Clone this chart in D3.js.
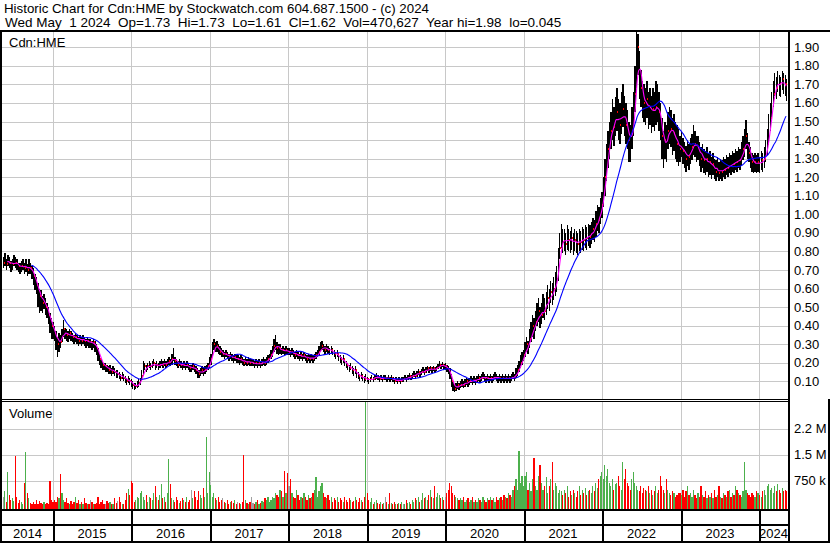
<!DOCTYPE html>
<html><head><meta charset="utf-8">
<script src="https://cdn.jsdelivr.net/npm/d3@7"></script>
<style>
html,body{margin:0;padding:0;background:#fff;}
svg{display:block;font-family:"Liberation Sans",Arial,sans-serif;}
</style></head>
<body>
<svg id="c" width="830" height="543"></svg>
<script>
// ---------- DATA (weekly, starting week of 2014-05-12) ----------
const startDate = new Date(2014, 4, 12);
const titleLine1 = "Historic Chart for Cdn:HME by Stockwatch.com 604.687.1500 - (c) 2024";
const titleLine2 = "Wed May  1 2024  Op=1.73  Hi=1.73  Lo=1.61  Cl=1.62  Vol=470,627  Year hi=1.98  lo=0.045";
const symbol = "Cdn:HME";
const priceTicks = [0.10,0.20,0.30,0.40,0.50,0.60,0.70,0.80,0.90,1.00,1.10,1.20,1.30,1.40,1.50,1.60,1.70,1.80,1.90];
const volumeTicks = [750000, 1500000, 2250000];
const volumeTickLabels = ["750 k", "1.5 M", "2.2 M"];
const yearLabels = ["2014","2015","2016","2017","2018","2019","2020","2021","2022","2023","2024"];

const close = [
0.74,0.75,0.73,0.76,0.74,0.72,0.73,0.75,0.74,0.73,0.72,0.71,0.72,0.73,0.71,0.72,0.70,0.72,0.71,0.69,0.67,0.64,0.62,0.58,0.56,0.55,0.52,0.54,0.50,0.48,0.46,0.42,0.40,0.38,
0.36,0.32,0.30,0.33,0.31,0.35,0.38,0.36,0.35,0.34,0.36,0.35,0.34,0.33,0.34,0.33,0.32,0.33,0.32,0.33,0.32,0.31,0.32,0.31,0.31,0.30,0.31,0.29,0.28,0.25,0.22,0.20,0.19,0.18,0.18,0.17,0.16,0.17,0.15,0.16,0.15,0.14,0.14,0.13,0.12,0.13,0.12,0.11,0.10,0.11,0.10,0.09,
0.08,0.07,0.075,0.08,0.09,0.10,0.13,0.16,0.18,0.17,0.18,0.19,0.18,0.19,0.20,0.18,0.19,0.18,0.19,0.20,0.19,0.20,0.19,0.20,0.21,0.20,0.22,0.24,0.21,0.20,0.19,0.20,0.19,0.18,0.19,0.18,0.19,0.18,0.17,0.17,0.18,0.17,0.16,0.15,0.14,0.15,0.16,0.15,0.16,0.17,0.18,0.20,
0.22,0.27,0.30,0.28,0.29,0.27,0.26,0.25,0.25,0.24,0.25,0.24,0.23,0.24,0.23,0.22,0.23,0.22,0.22,0.21,0.22,0.21,0.20,0.21,0.20,0.21,0.20,0.20,0.20,0.19,0.20,0.19,0.20,0.19,0.20,0.21,0.20,0.21,0.22,0.23,0.24,0.26,0.29,0.31,0.28,0.27,0.28,0.26,0.27,0.26,0.27,0.26,
0.26,0.25,0.26,0.25,0.24,0.25,0.24,0.23,0.24,0.23,0.24,0.23,0.22,0.23,0.22,0.23,0.22,0.23,0.24,0.25,0.26,0.28,0.29,0.28,0.27,0.28,0.27,0.26,0.27,0.26,0.25,0.24,0.25,0.23,0.22,0.21,0.22,0.20,0.19,0.18,0.17,0.18,0.16,0.15,0.16,0.14,0.13,0.12,0.13,0.12,0.11,0.12,
0.11,0.10,0.11,0.12,0.11,0.12,0.13,0.12,0.11,0.12,0.11,0.12,0.12,0.11,0.12,0.11,0.12,0.11,0.10,0.11,0.10,0.11,0.10,0.11,0.11,0.12,0.11,0.12,0.13,0.12,0.13,0.14,0.13,0.14,0.15,0.14,0.15,0.16,0.15,0.16,0.17,0.16,0.17,0.16,0.17,0.16,0.17,0.18,0.19,0.18,0.19,0.18,
0.18,0.17,0.16,0.14,0.10,0.07,0.06,0.07,0.08,0.07,0.08,0.09,0.08,0.09,0.10,0.09,0.10,0.11,0.10,0.11,0.10,0.11,0.12,0.11,0.12,0.13,0.12,0.11,0.12,0.11,0.12,0.11,0.12,0.13,0.12,0.11,0.12,0.11,0.12,0.11,0.12,0.11,0.12,0.11,0.12,0.13,0.12,0.14,0.16,0.18,0.20,0.22,
0.24,0.27,0.30,0.28,0.33,0.36,0.40,0.38,0.42,0.45,0.48,0.44,0.46,0.50,0.48,0.52,0.55,0.53,0.58,0.57,0.60,0.62,0.65,0.72,0.82,0.88,0.85,0.86,0.84,0.88,0.86,0.85,0.87,0.84,0.86,0.85,0.84,0.86,0.85,0.87,0.86,0.88,0.87,0.89,0.88,0.90,0.92,0.91,0.95,0.98,0.97,1.02,
1.05,1.12,1.20,1.28,1.35,1.40,1.45,1.50,1.47,1.52,1.55,1.50,1.48,1.53,1.57,1.52,1.48,1.45,1.40,1.38,1.45,1.52,1.65,1.80,1.90,1.75,1.68,1.62,1.60,1.58,1.62,1.56,1.58,1.54,1.57,1.55,1.58,1.60,1.55,1.50,1.42,1.35,1.40,1.38,1.45,1.48,1.46,1.42,1.44,1.40,1.38,1.36,
1.35,1.38,1.34,1.32,1.30,1.33,1.31,1.34,1.36,1.40,1.38,1.35,1.36,1.33,1.30,1.32,1.29,1.28,1.30,1.27,1.28,1.25,1.27,1.24,1.23,1.25,1.22,1.24,1.23,1.25,1.24,1.26,1.25,1.27,1.26,1.28,1.27,1.29,1.28,1.30,1.29,1.32,1.35,1.38,1.42,1.36,1.33,1.30,1.28,1.27,1.28,1.27,
1.28,1.27,1.29,1.28,1.30,1.33,1.38,1.45,1.52,1.58,1.65,1.70,1.68,1.72,1.70,1.69,1.73,1.71,1.70,1.62
];
const high = [
0.77,0.79,0.76,0.78,0.77,0.75,0.76,0.78,0.77,0.76,0.74,0.74,0.75,0.76,0.74,0.76,0.73,0.76,0.74,0.72,0.71,0.68,0.66,0.63,0.60,0.59,0.56,0.57,0.55,0.52,0.50,0.47,0.44,0.42,
0.40,0.37,0.34,0.36,0.35,0.38,0.43,0.39,0.38,0.37,0.38,0.37,0.36,0.35,0.36,0.35,0.34,0.35,0.34,0.35,0.34,0.33,0.34,0.33,0.33,0.32,0.33,0.32,0.30,0.28,0.25,0.22,0.21,0.20,0.20,0.19,0.18,0.19,0.17,0.18,0.17,0.16,0.16,0.15,0.14,0.15,0.14,0.13,0.12,0.13,0.12,0.11,
0.10,0.09,0.09,0.10,0.11,0.12,0.16,0.21,0.20,0.19,0.20,0.21,0.20,0.21,0.22,0.20,0.21,0.20,0.21,0.22,0.21,0.22,0.21,0.22,0.23,0.22,0.25,0.28,0.23,0.22,0.21,0.22,0.21,0.20,0.21,0.20,0.21,0.20,0.19,0.19,0.20,0.19,0.18,0.17,0.16,0.17,0.18,0.17,0.18,0.19,0.20,0.23,
0.25,0.31,0.33,0.31,0.32,0.30,0.29,0.28,0.27,0.26,0.27,0.26,0.25,0.26,0.25,0.24,0.25,0.24,0.24,0.23,0.24,0.23,0.22,0.23,0.22,0.23,0.22,0.22,0.22,0.21,0.22,0.21,0.22,0.21,0.22,0.23,0.22,0.23,0.24,0.25,0.27,0.29,0.33,0.35,0.31,0.30,0.30,0.28,0.29,0.28,0.29,0.28,
0.28,0.27,0.28,0.27,0.26,0.27,0.26,0.25,0.26,0.25,0.26,0.25,0.24,0.25,0.24,0.25,0.24,0.25,0.26,0.27,0.29,0.31,0.32,0.30,0.29,0.30,0.29,0.28,0.29,0.28,0.27,0.26,0.27,0.25,0.24,0.23,0.24,0.22,0.21,0.20,0.19,0.20,0.18,0.17,0.18,0.16,0.15,0.14,0.15,0.14,0.13,0.14,
0.125,0.115,0.125,0.135,0.125,0.135,0.145,0.135,0.125,0.135,0.125,0.135,0.135,0.125,0.135,0.125,0.135,0.125,0.115,0.125,0.115,0.125,0.115,0.125,0.125,0.135,0.125,0.135,0.145,0.135,0.145,0.155,0.145,0.155,0.165,0.155,0.165,0.175,0.165,0.175,0.185,0.175,0.185,0.175,0.185,0.175,0.185,0.195,0.21,0.195,0.205,0.195,
0.20,0.19,0.18,0.17,0.14,0.10,0.08,0.09,0.10,0.09,0.10,0.11,0.10,0.11,0.12,0.11,0.12,0.13,0.12,0.13,0.12,0.13,0.14,0.13,0.14,0.15,0.14,0.13,0.14,0.13,0.14,0.13,0.14,0.15,0.14,0.13,0.14,0.13,0.14,0.13,0.14,0.13,0.14,0.13,0.14,0.15,0.14,0.17,0.19,0.21,0.24,0.26,
0.27,0.31,0.34,0.32,0.38,0.42,0.46,0.44,0.48,0.52,0.55,0.50,0.52,0.57,0.55,0.58,0.62,0.60,0.64,0.63,0.66,0.69,0.72,0.82,0.90,0.95,0.92,0.92,0.90,0.94,0.92,0.91,0.93,0.90,0.92,0.91,0.90,0.92,0.91,0.93,0.92,0.94,0.93,0.95,0.94,0.96,0.98,0.97,1.02,1.05,1.04,1.09,
1.12,1.20,1.30,1.38,1.45,1.50,1.55,1.62,1.58,1.63,1.68,1.62,1.60,1.66,1.70,1.64,1.60,1.56,1.50,1.48,1.58,1.66,1.80,1.98,1.97,1.88,1.78,1.72,1.70,1.68,1.72,1.66,1.68,1.64,1.68,1.66,1.72,1.70,1.66,1.60,1.52,1.45,1.50,1.48,1.55,1.58,1.56,1.52,1.54,1.50,1.48,1.46,
1.42,1.45,1.41,1.39,1.37,1.40,1.38,1.41,1.43,1.48,1.45,1.42,1.42,1.39,1.36,1.38,1.35,1.34,1.36,1.33,1.34,1.31,1.33,1.30,1.29,1.31,1.28,1.30,1.29,1.31,1.30,1.32,1.31,1.33,1.32,1.34,1.33,1.35,1.34,1.36,1.35,1.39,1.42,1.46,1.51,1.44,1.39,1.36,1.33,1.32,1.33,1.32,
1.33,1.31,1.34,1.33,1.36,1.40,1.46,1.54,1.60,1.66,1.72,1.76,1.74,1.77,1.75,1.74,1.77,1.76,1.75,1.73
];
const low = [
0.71,0.72,0.70,0.72,0.71,0.69,0.70,0.72,0.71,0.70,0.69,0.68,0.69,0.70,0.68,0.69,0.67,0.68,0.68,0.65,0.62,0.59,0.57,0.50,0.47,0.48,0.47,0.49,0.46,0.44,0.41,0.36,0.33,0.33,
0.32,0.27,0.23,0.26,0.28,0.31,0.34,0.33,0.32,0.31,0.33,0.32,0.31,0.30,0.31,0.30,0.29,0.30,0.29,0.30,0.29,0.28,0.29,0.28,0.28,0.27,0.28,0.26,0.24,0.21,0.19,0.17,0.16,0.16,0.15,0.15,0.14,0.14,0.13,0.14,0.13,0.12,0.12,0.11,0.10,0.11,0.10,0.09,0.08,0.09,0.08,0.07,
0.06,0.055,0.06,0.065,0.07,0.08,0.10,0.13,0.16,0.15,0.16,0.17,0.16,0.17,0.18,0.16,0.17,0.16,0.17,0.18,0.17,0.18,0.17,0.18,0.19,0.18,0.19,0.21,0.19,0.18,0.17,0.18,0.17,0.16,0.17,0.16,0.17,0.16,0.15,0.15,0.16,0.15,0.14,0.12,0.12,0.13,0.14,0.13,0.14,0.15,0.16,0.17,
0.19,0.23,0.27,0.26,0.26,0.25,0.24,0.23,0.23,0.22,0.23,0.22,0.21,0.22,0.21,0.20,0.21,0.20,0.20,0.19,0.20,0.19,0.18,0.19,0.18,0.19,0.18,0.18,0.18,0.17,0.18,0.17,0.18,0.17,0.18,0.19,0.18,0.19,0.20,0.21,0.22,0.23,0.26,0.27,0.25,0.24,0.25,0.24,0.25,0.24,0.24,0.24,
0.24,0.23,0.24,0.23,0.22,0.23,0.22,0.21,0.22,0.21,0.22,0.21,0.20,0.21,0.20,0.21,0.20,0.21,0.22,0.23,0.24,0.26,0.27,0.26,0.25,0.26,0.25,0.24,0.25,0.24,0.23,0.22,0.23,0.21,0.20,0.19,0.20,0.18,0.17,0.16,0.15,0.16,0.14,0.13,0.14,0.12,0.11,0.10,0.11,0.10,0.09,0.10,
0.095,0.085,0.095,0.105,0.095,0.105,0.115,0.105,0.095,0.105,0.095,0.105,0.105,0.095,0.105,0.095,0.105,0.095,0.085,0.095,0.085,0.095,0.085,0.095,0.095,0.105,0.095,0.105,0.115,0.105,0.115,0.125,0.115,0.125,0.135,0.125,0.135,0.145,0.135,0.145,0.155,0.145,0.155,0.145,0.155,0.145,0.155,0.165,0.175,0.165,0.175,0.165,
0.16,0.15,0.14,0.11,0.07,0.05,0.045,0.05,0.06,0.055,0.065,0.07,0.065,0.07,0.08,0.07,0.08,0.09,0.08,0.09,0.08,0.09,0.10,0.09,0.10,0.11,0.10,0.09,0.10,0.09,0.10,0.09,0.10,0.11,0.10,0.09,0.10,0.09,0.10,0.09,0.10,0.09,0.10,0.09,0.10,0.11,0.10,0.12,0.13,0.15,0.17,0.19,
0.21,0.23,0.26,0.25,0.28,0.31,0.34,0.33,0.37,0.40,0.42,0.39,0.41,0.44,0.43,0.46,0.49,0.48,0.52,0.51,0.54,0.56,0.58,0.64,0.76,0.82,0.79,0.80,0.78,0.81,0.80,0.79,0.81,0.78,0.80,0.79,0.78,0.80,0.79,0.81,0.80,0.82,0.81,0.83,0.82,0.84,0.86,0.85,0.88,0.91,0.90,0.95,
0.98,1.04,1.10,1.18,1.25,1.30,1.35,1.40,1.37,1.42,1.45,1.40,1.38,1.43,1.47,1.42,1.38,1.35,1.28,1.28,1.35,1.42,1.55,1.68,1.75,1.62,1.58,1.52,1.50,1.48,1.52,1.46,1.48,1.44,1.47,1.45,1.48,1.50,1.45,1.40,1.30,1.25,1.30,1.28,1.35,1.38,1.36,1.32,1.34,1.30,1.28,1.26,
1.28,1.31,1.27,1.25,1.23,1.26,1.24,1.27,1.29,1.32,1.31,1.28,1.29,1.26,1.23,1.25,1.22,1.21,1.23,1.20,1.21,1.19,1.21,1.19,1.18,1.20,1.18,1.19,1.18,1.20,1.19,1.21,1.20,1.22,1.21,1.23,1.22,1.24,1.23,1.25,1.24,1.26,1.29,1.31,1.35,1.30,1.28,1.25,1.23,1.22,1.23,1.22,
1.23,1.22,1.24,1.23,1.25,1.28,1.32,1.38,1.45,1.52,1.58,1.64,1.62,1.66,1.64,1.63,1.67,1.65,1.64,1.61
];
// volume in thousands of shares
const volume = [
300,450,150,1000,350,200,250,180,1450,300,120,200,150,90,700,1570,400,250,120,80,150,100,200,90,180,110,80,150,100,120,90,740,200,150,
200,150,300,250,940,400,200,150,250,120,100,180,90,150,300,120,200,100,150,90,250,120,80,100,200,150,100,90,120,300,80,150,200,100,90,180,120,150,90,100,250,120,180,300,150,100,90,200,400,520,350,740,
700,150,200,300,250,400,450,300,200,350,150,300,250,200,400,600,300,200,350,650,250,300,150,400,1370,650,250,200,150,300,200,120,180,250,200,150,300,150,200,500,250,450,300,200,470,350,250,550,300,2000,400,1000,
620,300,400,250,200,300,150,200,250,150,120,200,100,150,180,120,200,100,150,120,100,150,1500,200,120,100,150,300,120,100,150,200,100,120,180,150,250,200,300,150,200,300,250,400,350,300,500,450,300,1020,400,970,
600,800,400,300,250,500,350,200,300,250,400,300,200,350,250,300,400,500,850,300,450,600,700,400,300,250,350,200,300,150,250,200,300,150,250,200,150,300,200,150,250,200,150,180,300,200,150,250,200,150,300,3000,
400,200,150,250,100,150,200,120,100,150,80,120,300,150,100,400,120,80,150,100,80,120,100,150,80,100,200,120,150,100,200,150,250,200,300,150,200,400,250,300,200,350,500,300,250,600,300,400,350,250,300,200,
300,400,500,700,600,400,350,300,250,200,250,200,300,150,200,250,150,200,300,150,200,150,250,200,150,300,200,150,250,200,300,200,250,150,300,200,250,300,200,350,300,250,400,350,300,500,600,800,500,1600,700,900,
600,900,1000,500,700,450,800,1400,600,500,900,1200,700,500,600,850,400,600,800,1300,500,700,600,400,500,450,350,500,400,600,300,450,350,500,400,300,450,600,350,500,400,550,350,450,500,400,600,450,700,550,800,900,
1000,800,1200,900,1100,700,600,800,500,650,700,900,600,500,1300,800,1100,700,600,500,800,1000,700,600,500,450,600,400,550,500,450,600,400,500,350,450,600,400,500,900,600,500,400,800,500,400,350,450,400,300,350,400,
400,350,500,300,450,600,350,400,300,500,350,250,400,300,600,350,300,450,250,350,300,400,250,500,300,350,600,300,250,400,350,300,450,500,300,400,350,600,500,400,350,300,450,1300,500,400,350,300,400,350,300,450,
400,350,300,450,500,350,600,650,500,550,400,600,450,650,500,400,550,450,500,470
];

// ---------- LAYOUT ----------
const W = 830, H = 543;
const plotL = 2, plotR = 788;
const priceTop = 31, priceBot = 399;
const volTop = 402, volBot = 509;

const svg = d3.select("#c");
const dates = close.map((_, i) => d3.timeWeek.offset(startDate, i));

const x = d3.scaleTime()
  .domain([new Date(2015,0,1), new Date(2024,0,1)])
  .range([53, 759]);
const y = d3.scaleLinear().domain([0, 2]).range([399.9, 28.7]);
const yv = d3.scaleLinear().domain([0, 2250]).range([507, 428.5]);

const yearBounds = d3.timeYear.range(new Date(2015,0,1), new Date(2024,0,2)).map(d => Math.round(x(d)));

// background
svg.append("rect").attr("width", W).attr("height", H).attr("fill", "#fff");

// header text
svg.append("text").attr("x", 4).attr("y", 13).attr("font-size", 13.3).attr("fill", "#000")
  .text(titleLine1);
svg.append("text").attr("x", 5).attr("y", 27).attr("font-size", 13.5).attr("fill", "#000")
  .attr("xml:space","preserve").style("white-space","pre").text(titleLine2);

// grid - price
const grid = svg.append("g").attr("stroke", "#c8c8c8").attr("stroke-width", 1).attr("shape-rendering", "crispEdges");
priceTicks.forEach(p => {
  const yy = Math.round(y(p)) + 0.5;
  grid.append("line").attr("x1", plotL).attr("x2", plotR).attr("y1", yy).attr("y2", yy);
});
yearBounds.forEach(b => {
  grid.append("line").attr("x1", b + 0.5).attr("x2", b + 0.5).attr("y1", priceTop).attr("y2", priceBot);
  grid.append("line").attr("x1", b + 0.5).attr("x2", b + 0.5).attr("y1", volTop).attr("y2", volBot);
});
volumeTicks.forEach(v => {
  const yy = Math.round(yv(v / 1000)) + 0.5;
  grid.append("line").attr("x1", plotL).attr("x2", plotR).attr("y1", yy).attr("y2", yy);
});

// panel labels
svg.append("text").attr("x", 9).attr("y", 47).attr("font-size", 13).text(symbol);
svg.append("text").attr("x", 9).attr("y", 418).attr("font-size", 13).text("Volume");

// volume bars
const vg = svg.append("g").attr("shape-rendering", "crispEdges");
volume.forEach((v, i) => {
  const prev = i > 0 ? close[i - 1] : close[i];
  const col = close[i] > prev ? "#4cb04c" : (close[i] < prev ? "#ff0000" : "#a0a0a0");
  const top = Math.max(volTop, yv(v));
  vg.append("rect").attr("x", x(dates[i])).attr("width", 1.2)
    .attr("y", top).attr("height", volBot + 0.5 - top).attr("fill", col);
});

// price bars
const pg = svg.append("g").attr("shape-rendering", "crispEdges");
close.forEach((c, i) => {
  const xx = x(dates[i]);
  pg.append("rect").attr("x", xx).attr("width", 1.4)
    .attr("y", y(high[i])).attr("height", Math.max(1, y(low[i]) - y(high[i]))).attr("fill", "#000");
});
close.forEach((c, i) => {
  if (i % 2 === 0) {
    pg.append("rect").attr("x", x(dates[i]) + 1).attr("width", 1)
      .attr("y", y(c) - 1).attr("height", 2).attr("fill", "#ff0000");
  }
});

// moving averages (computed from weekly closes)
function sma(n) {
  return close.map((_, i) => i < n - 1 ? null : d3.mean(close.slice(i - n + 1, i + 1)));
}
const maShort = sma(4), maLong = sma(20);
const line = d3.line().defined(d => d[1] != null).x(d => x(d[0])).y(d => y(d[1])).curve(d3.curveMonotoneX);
svg.append("path").attr("d", line(dates.map((d, i) => [d, maShort[i]])))
  .attr("fill", "none").attr("stroke", "#ff00ff").attr("stroke-width", 1.1);
svg.append("path").attr("d", line(dates.map((d, i) => [d, maLong[i]])))
  .attr("fill", "none").attr("stroke", "#0000ff").attr("stroke-width", 1.1);

// frame lines
const fr = svg.append("g").attr("fill", "#000").attr("shape-rendering", "crispEdges");
fr.append("rect").attr("x", 0).attr("y", 30).attr("width", W).attr("height", 2);
fr.append("rect").attr("x", 0).attr("y", 30).attr("width", 2).attr("height", H - 30);
fr.append("rect").attr("x", plotR).attr("y", 30).attr("width", 2).attr("height", H - 30);
fr.append("rect").attr("x", 0).attr("y", 399).attr("width", plotR).attr("height", 1);
fr.append("rect").attr("x", 0).attr("y", 401).attr("width", plotR).attr("height", 1);
fr.append("rect").attr("x", 0).attr("y", 509).attr("width", plotR).attr("height", 2);
fr.append("rect").attr("x", 0).attr("y", 524).attr("width", plotR).attr("height", 2);
fr.append("rect").attr("x", 0).attr("y", 541).attr("width", W).attr("height", 2);
fr.append("rect").attr("x", 828).attr("y", 399).attr("width", 2).attr("height", H - 399);
yearBounds.forEach(b => {
  fr.append("rect").attr("x", b).attr("y", 510).attr("width", 1.5).attr("height", 32);
});

// year labels
const segs = [plotL].concat(yearBounds).concat([plotR]);
yearLabels.forEach((t, i) => {
  svg.append("text").attr("x", (segs[i] + segs[i + 1]) / 2).attr("y", 538)
    .attr("text-anchor", "middle").attr("font-size", 13).text(t);
});

// right axis labels
priceTicks.forEach(p => {
  svg.append("text").attr("x", 794).attr("y", y(p)).attr("dy", "0.35em")
    .attr("font-size", 13).text(p.toFixed(2));
});
volumeTicks.forEach((v, i) => {
  svg.append("text").attr("x", 794).attr("y", yv(v / 1000)).attr("dy", "0.35em")
    .attr("font-size", 13).text(volumeTickLabels[i]);
});
</script>
</body></html>
